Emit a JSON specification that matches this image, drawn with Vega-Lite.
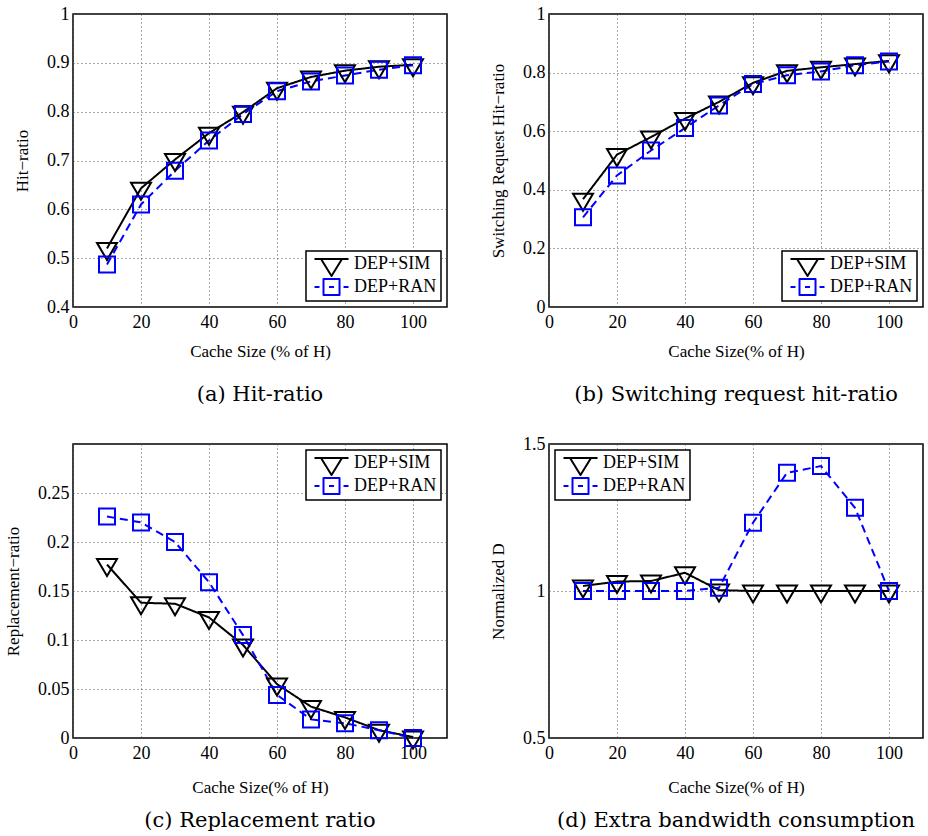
{
  "$schema": "https://vega.github.io/schema/vega-lite/v6.json",
  "padding": {"left": 3, "top": 4, "right": 0, "bottom": 0},
  "background": "white",
  "datasets": {
    "d": [
      {"p": "a", "s": "DEP+SIM", "x": 10, "y": 0.520},
      {"p": "a", "s": "DEP+SIM", "x": 20, "y": 0.643},
      {"p": "a", "s": "DEP+SIM", "x": 30, "y": 0.702},
      {"p": "a", "s": "DEP+SIM", "x": 40, "y": 0.756},
      {"p": "a", "s": "DEP+SIM", "x": 50, "y": 0.799},
      {"p": "a", "s": "DEP+SIM", "x": 60, "y": 0.848},
      {"p": "a", "s": "DEP+SIM", "x": 70, "y": 0.871},
      {"p": "a", "s": "DEP+SIM", "x": 80, "y": 0.884},
      {"p": "a", "s": "DEP+SIM", "x": 90, "y": 0.892},
      {"p": "a", "s": "DEP+SIM", "x": 100, "y": 0.896},
      {"p": "a", "s": "DEP+RAN", "x": 10, "y": 0.487},
      {"p": "a", "s": "DEP+RAN", "x": 20, "y": 0.610},
      {"p": "a", "s": "DEP+RAN", "x": 30, "y": 0.679},
      {"p": "a", "s": "DEP+RAN", "x": 40, "y": 0.741},
      {"p": "a", "s": "DEP+RAN", "x": 50, "y": 0.795},
      {"p": "a", "s": "DEP+RAN", "x": 60, "y": 0.842},
      {"p": "a", "s": "DEP+RAN", "x": 70, "y": 0.862},
      {"p": "a", "s": "DEP+RAN", "x": 80, "y": 0.874},
      {"p": "a", "s": "DEP+RAN", "x": 90, "y": 0.886},
      {"p": "a", "s": "DEP+RAN", "x": 100, "y": 0.895},
      {"p": "b", "s": "DEP+SIM", "x": 10, "y": 0.368},
      {"p": "b", "s": "DEP+SIM", "x": 20, "y": 0.520},
      {"p": "b", "s": "DEP+SIM", "x": 30, "y": 0.580},
      {"p": "b", "s": "DEP+SIM", "x": 40, "y": 0.643},
      {"p": "b", "s": "DEP+SIM", "x": 50, "y": 0.700},
      {"p": "b", "s": "DEP+SIM", "x": 60, "y": 0.765},
      {"p": "b", "s": "DEP+SIM", "x": 70, "y": 0.806},
      {"p": "b", "s": "DEP+SIM", "x": 80, "y": 0.818},
      {"p": "b", "s": "DEP+SIM", "x": 90, "y": 0.829},
      {"p": "b", "s": "DEP+SIM", "x": 100, "y": 0.840},
      {"p": "b", "s": "DEP+RAN", "x": 10, "y": 0.306},
      {"p": "b", "s": "DEP+RAN", "x": 20, "y": 0.449},
      {"p": "b", "s": "DEP+RAN", "x": 30, "y": 0.534},
      {"p": "b", "s": "DEP+RAN", "x": 40, "y": 0.611},
      {"p": "b", "s": "DEP+RAN", "x": 50, "y": 0.688},
      {"p": "b", "s": "DEP+RAN", "x": 60, "y": 0.761},
      {"p": "b", "s": "DEP+RAN", "x": 70, "y": 0.791},
      {"p": "b", "s": "DEP+RAN", "x": 80, "y": 0.804},
      {"p": "b", "s": "DEP+RAN", "x": 90, "y": 0.825},
      {"p": "b", "s": "DEP+RAN", "x": 100, "y": 0.838},
      {"p": "c", "s": "DEP+SIM", "x": 10, "y": 0.177},
      {"p": "c", "s": "DEP+SIM", "x": 20, "y": 0.138},
      {"p": "c", "s": "DEP+SIM", "x": 30, "y": 0.137},
      {"p": "c", "s": "DEP+SIM", "x": 40, "y": 0.123},
      {"p": "c", "s": "DEP+SIM", "x": 50, "y": 0.095},
      {"p": "c", "s": "DEP+SIM", "x": 60, "y": 0.055},
      {"p": "c", "s": "DEP+SIM", "x": 70, "y": 0.032},
      {"p": "c", "s": "DEP+SIM", "x": 80, "y": 0.021},
      {"p": "c", "s": "DEP+SIM", "x": 90, "y": 0.008},
      {"p": "c", "s": "DEP+SIM", "x": 100, "y": 0.001},
      {"p": "c", "s": "DEP+RAN", "x": 10, "y": 0.226},
      {"p": "c", "s": "DEP+RAN", "x": 20, "y": 0.220},
      {"p": "c", "s": "DEP+RAN", "x": 30, "y": 0.200},
      {"p": "c", "s": "DEP+RAN", "x": 40, "y": 0.159},
      {"p": "c", "s": "DEP+RAN", "x": 50, "y": 0.105},
      {"p": "c", "s": "DEP+RAN", "x": 60, "y": 0.044},
      {"p": "c", "s": "DEP+RAN", "x": 70, "y": 0.019},
      {"p": "c", "s": "DEP+RAN", "x": 80, "y": 0.015},
      {"p": "c", "s": "DEP+RAN", "x": 90, "y": 0.008},
      {"p": "c", "s": "DEP+RAN", "x": 100, "y": 0.000},
      {"p": "d", "s": "DEP+SIM", "x": 10, "y": 1.017},
      {"p": "d", "s": "DEP+SIM", "x": 20, "y": 1.032},
      {"p": "d", "s": "DEP+SIM", "x": 30, "y": 1.034},
      {"p": "d", "s": "DEP+SIM", "x": 40, "y": 1.062},
      {"p": "d", "s": "DEP+SIM", "x": 50, "y": 1.003},
      {"p": "d", "s": "DEP+SIM", "x": 60, "y": 1.0},
      {"p": "d", "s": "DEP+SIM", "x": 70, "y": 1.0},
      {"p": "d", "s": "DEP+SIM", "x": 80, "y": 1.0},
      {"p": "d", "s": "DEP+SIM", "x": 90, "y": 1.0},
      {"p": "d", "s": "DEP+SIM", "x": 100, "y": 1.0},
      {"p": "d", "s": "DEP+RAN", "x": 10, "y": 1.0},
      {"p": "d", "s": "DEP+RAN", "x": 20, "y": 1.0},
      {"p": "d", "s": "DEP+RAN", "x": 30, "y": 1.0},
      {"p": "d", "s": "DEP+RAN", "x": 40, "y": 1.0},
      {"p": "d", "s": "DEP+RAN", "x": 50, "y": 1.011},
      {"p": "d", "s": "DEP+RAN", "x": 60, "y": 1.232},
      {"p": "d", "s": "DEP+RAN", "x": 70, "y": 1.402},
      {"p": "d", "s": "DEP+RAN", "x": 80, "y": 1.425},
      {"p": "d", "s": "DEP+RAN", "x": 90, "y": 1.283},
      {"p": "d", "s": "DEP+RAN", "x": 100, "y": 1.0}
    ]
  },
  "config": {
    "view": {"stroke": "#000000", "strokeWidth": 1.5},
    "axis": {
      "labelFont": "Liberation Serif", "labelFontSize": 18, "labelColor": "#000000",
      "titleFont": "Liberation Serif", "titleFontSize": 17, "titleFontWeight": "normal", "titleColor": "#000000",
      "ticks": false, "tickSize": 0, "domain": false, "grid": true,
      "gridColor": "#555555", "gridDash": [1, 3], "gridWidth": 1,
      "labelFlush": false, "labelOverlap": false
    },
    "axisX": {"labelPadding": 6, "titlePadding": 12},
    "axisY": {"labelPadding": 4, "titlePadding": 15},
    "legend": {
      "title": null,
      "strokeColor": "#000000", "fillColor": "#ffffff", "padding": 4,
      "labelFont": "Liberation Serif", "labelFontSize": 18, "labelColor": "#000000",
      "symbolSize": 81, "labelOffset": 26, "rowPadding": -4, "symbolStrokeWidth": 2, "offset": 6
    },
    "title": {"font": "DejaVu Serif", "fontSize": 21, "fontWeight": "normal", "color": "#000000", "orient": "bottom", "offset": 25, "anchor": "middle", "frame": "group"}
  },
  "columns": 2,
  "spacing": {"row": 28, "column": 40},
  "concat": [
    {
      "width": 374, "height": 293,
      "title": {"text": "(a) Hit-ratio"},
      "data": {"name": "d"},
      "transform": [{"filter": "datum.p === 'a'"}],
      "encoding": {
        "x": {"field": "x", "type": "quantitative", "scale": {"domain": [0, 110], "nice": false}, "axis": {"values": [0, 20, 40, 60, 80, 100], "title": "Cache Size (% of H)"}},
        "y": {"field": "y", "type": "quantitative", "scale": {"domain": [0.4, 1], "nice": false, "zero": false}, "axis": {"values": [0.4, 0.5, 0.6, 0.7, 0.8, 0.9, 1], "format": ".2~f", "title": "Hit−ratio"}},
        "color": {"field": "s", "type": "nominal", "scale": {"domain": ["DEP+SIM", "DEP+RAN"], "range": ["#000000", "#0000ff"]},
          "legend": {"orient": "bottom-right", "labelFont": "Liberation Serif",
            "encode": {
              "legend": {"update": {"strokeWidth": {"value": 1.5}}},
              "labels": {"update": {"font": {"value": "Liberation Serif"}}},
              "symbols": {"update": {
                "shape": {"signal": "datum.value === 'DEP+SIM' ? 'M-1,-1.11H6.56M0.45,-1.11L5.11,-1.11L2.78,2.67Z' : 'M-1,0H0.11M5.45,0H6.56M1,-1.78H4.56V1.78H1ZM2.22,0H3.34'"},
                "stroke": {"signal": "datum.value === 'DEP+SIM' ? '#000000' : '#0000ff'"},
                "strokeDash": {"value": []}, "strokeWidth": {"value": 2}, "strokeJoin": {"value": "round"},
                "fill": {"value": "transparent"}, "opacity": {"value": 1}}}}}}
      },
      "layer": [
        {"mark": {"type": "line", "strokeWidth": 2},
          "encoding": {"strokeDash": {"field": "s", "type": "nominal", "scale": {"domain": ["DEP+SIM", "DEP+RAN"], "range": [[1, 0], [8, 5]]}, "legend": null}}},
        {"mark": {"type": "point", "filled": false, "strokeWidth": 2, "opacity": 1, "size": 256},
          "encoding": {"shape": {"field": "s", "type": "nominal", "scale": {"domain": ["DEP+SIM", "DEP+RAN"], "range": ["M-1.25,-0.69L1.25,-0.69L0,1.44Z", "square"]}, "legend": null}}}
      ]
    },
    {
      "width": 374, "height": 293,
      "title": {"text": "(b) Switching request hit-ratio"},
      "data": {"name": "d"},
      "transform": [{"filter": "datum.p === 'b'"}],
      "encoding": {
        "x": {"field": "x", "type": "quantitative", "scale": {"domain": [0, 110], "nice": false}, "axis": {"values": [0, 20, 40, 60, 80, 100], "title": "Cache Size(% of H)"}},
        "y": {"field": "y", "type": "quantitative", "scale": {"domain": [0, 1], "nice": false}, "axis": {"values": [0, 0.2, 0.4, 0.6, 0.8, 1], "format": ".2~f", "title": "Switching Request Hit−ratio"}},
        "color": {"field": "s", "type": "nominal", "scale": {"domain": ["DEP+SIM", "DEP+RAN"], "range": ["#000000", "#0000ff"]},
          "legend": {"orient": "bottom-right", "labelFont": "Liberation Serif",
            "encode": {
              "legend": {"update": {"strokeWidth": {"value": 1.5}}},
              "labels": {"update": {"font": {"value": "Liberation Serif"}}},
              "symbols": {"update": {
                "shape": {"signal": "datum.value === 'DEP+SIM' ? 'M-1,-1.11H6.56M0.45,-1.11L5.11,-1.11L2.78,2.67Z' : 'M-1,0H0.11M5.45,0H6.56M1,-1.78H4.56V1.78H1ZM2.22,0H3.34'"},
                "stroke": {"signal": "datum.value === 'DEP+SIM' ? '#000000' : '#0000ff'"},
                "strokeDash": {"value": []}, "strokeWidth": {"value": 2}, "strokeJoin": {"value": "round"},
                "fill": {"value": "transparent"}, "opacity": {"value": 1}}}}}}
      },
      "layer": [
        {"mark": {"type": "line", "strokeWidth": 2},
          "encoding": {"strokeDash": {"field": "s", "type": "nominal", "scale": {"domain": ["DEP+SIM", "DEP+RAN"], "range": [[1, 0], [8, 5]]}, "legend": null}}},
        {"mark": {"type": "point", "filled": false, "strokeWidth": 2, "opacity": 1, "size": 256},
          "encoding": {"shape": {"field": "s", "type": "nominal", "scale": {"domain": ["DEP+SIM", "DEP+RAN"], "range": ["M-1.25,-0.69L1.25,-0.69L0,1.44Z", "square"]}, "legend": null}}}
      ]
    },
    {
      "width": 374, "height": 294,
      "title": {"text": "(c) Replacement ratio", "offset": 15},
      "data": {"name": "d"},
      "transform": [{"filter": "datum.p === 'c'"}],
      "encoding": {
        "x": {"field": "x", "type": "quantitative", "scale": {"domain": [0, 110], "nice": false}, "axis": {"values": [0, 20, 40, 60, 80, 100], "title": "Cache Size(% of H)", "titlePadding": 17}},
        "y": {"field": "y", "type": "quantitative", "scale": {"domain": [0, 0.3], "nice": false}, "axis": {"values": [0, 0.05, 0.1, 0.15, 0.2, 0.25], "format": ".2~f", "title": "Replacement−ratio"}},
        "color": {"field": "s", "type": "nominal", "scale": {"domain": ["DEP+SIM", "DEP+RAN"], "range": ["#000000", "#0000ff"]},
          "legend": {"orient": "top-right", "labelFont": "Liberation Serif",
            "encode": {
              "legend": {"update": {"strokeWidth": {"value": 1.5}}},
              "labels": {"update": {"font": {"value": "Liberation Serif"}}},
              "symbols": {"update": {
                "shape": {"signal": "datum.value === 'DEP+SIM' ? 'M-1,-1.11H6.56M0.45,-1.11L5.11,-1.11L2.78,2.67Z' : 'M-1,0H0.11M5.45,0H6.56M1,-1.78H4.56V1.78H1ZM2.22,0H3.34'"},
                "stroke": {"signal": "datum.value === 'DEP+SIM' ? '#000000' : '#0000ff'"},
                "strokeDash": {"value": []}, "strokeWidth": {"value": 2}, "strokeJoin": {"value": "round"},
                "fill": {"value": "transparent"}, "opacity": {"value": 1}}}}}}
      },
      "layer": [
        {"mark": {"type": "line", "strokeWidth": 2},
          "encoding": {"strokeDash": {"field": "s", "type": "nominal", "scale": {"domain": ["DEP+SIM", "DEP+RAN"], "range": [[1, 0], [8, 5]]}, "legend": null}}},
        {"mark": {"type": "point", "filled": false, "strokeWidth": 2, "opacity": 1, "size": 256},
          "encoding": {"shape": {"field": "s", "type": "nominal", "scale": {"domain": ["DEP+SIM", "DEP+RAN"], "range": ["M-1.25,-0.69L1.25,-0.69L0,1.44Z", "square"]}, "legend": null}}}
      ]
    },
    {
      "width": 374, "height": 294,
      "title": {"text": "(d) Extra bandwidth consumption", "offset": 15},
      "data": {"name": "d"},
      "transform": [{"filter": "datum.p === 'd'"}],
      "encoding": {
        "x": {"field": "x", "type": "quantitative", "scale": {"domain": [0, 110], "nice": false}, "axis": {"values": [0, 20, 40, 60, 80, 100], "title": "Cache Size(% of H)", "titlePadding": 17}},
        "y": {"field": "y", "type": "quantitative", "scale": {"domain": [0.5, 1.5], "nice": false, "zero": false}, "axis": {"values": [0.5, 1, 1.5], "format": ".2~f", "title": "Normalized D"}},
        "color": {"field": "s", "type": "nominal", "scale": {"domain": ["DEP+SIM", "DEP+RAN"], "range": ["#000000", "#0000ff"]},
          "legend": {"orient": "top-left", "labelFont": "Liberation Serif",
            "encode": {
              "legend": {"update": {"strokeWidth": {"value": 1.5}}},
              "labels": {"update": {"font": {"value": "Liberation Serif"}}},
              "symbols": {"update": {
                "shape": {"signal": "datum.value === 'DEP+SIM' ? 'M-1,-1.11H6.56M0.45,-1.11L5.11,-1.11L2.78,2.67Z' : 'M-1,0H0.11M5.45,0H6.56M1,-1.78H4.56V1.78H1ZM2.22,0H3.34'"},
                "stroke": {"signal": "datum.value === 'DEP+SIM' ? '#000000' : '#0000ff'"},
                "strokeDash": {"value": []}, "strokeWidth": {"value": 2}, "strokeJoin": {"value": "round"},
                "fill": {"value": "transparent"}, "opacity": {"value": 1}}}}}}
      },
      "layer": [
        {"mark": {"type": "line", "strokeWidth": 2},
          "encoding": {"strokeDash": {"field": "s", "type": "nominal", "scale": {"domain": ["DEP+SIM", "DEP+RAN"], "range": [[1, 0], [8, 5]]}, "legend": null}}},
        {"mark": {"type": "point", "filled": false, "strokeWidth": 2, "opacity": 1, "size": 256},
          "encoding": {"shape": {"field": "s", "type": "nominal", "scale": {"domain": ["DEP+SIM", "DEP+RAN"], "range": ["M-1.25,-0.69L1.25,-0.69L0,1.44Z", "square"]}, "legend": null}}}
      ]
    }
  ]
}
